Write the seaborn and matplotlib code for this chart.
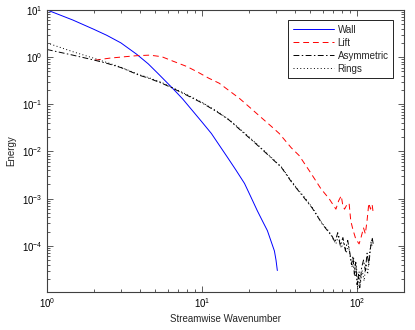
import numpy as np
import pandas as pd
import matplotlib
matplotlib.use('Agg')
import matplotlib.pyplot as plt
import seaborn as sns

# valori (numero d'onda, energia)
k_wall = [1, 1.47, 2, 2.43, 3, 3.79, 4.5, 5.2, 6.45, 7.5, 8.95, 10, 11.5, 13, 14.6, 16.5,
          18.8, 20.5, 22.7, 24.5, 26.4, 28, 29.3, 30, 30.6]
e_wall = [10, 6.1, 3.9, 2.9, 2.0, 1.15, 0.72, 0.45, 0.22, 0.13, 0.065, 0.042, 0.024, 0.0132,
          0.0075, 0.0041, 0.0021, 0.00115, 5.6e-4, 3.4e-4, 2.1e-4, 1.2e-4, 7.8e-5, 5e-5, 3e-5]

k_lift = [2.04, 2.54, 3.2, 3.79, 4.6, 5.5, 6.5, 8, 9.4, 11, 12.9, 15, 17.4, 20, 24, 28, 31.5,
          37.6, 42.3, 50, 58.6, 66, 73, 76, 79, 81, 83, 86, 88.8, 91, 94, 98, 103, 106, 110,
          113, 116, 119, 122, 125, 127]
e_lift = [0.86, 0.95, 1.02, 1.07, 1.1, 1.02, 0.82, 0.63, 0.48, 0.36, 0.28, 0.193, 0.134, 0.09,
          0.053, 0.034, 0.024, 0.012, 0.0082, 0.0036, 0.0016, 1e-3, 6e-4, 9e-4, 1.15e-3, 7e-4,
          6e-4, 7.5e-4, 8e-4, 3.4e-4, 2.2e-4, 1.4e-4, 1.1e-4, 1.5e-4, 2.4e-4, 1.8e-4, 3.5e-4,
          8e-4, 6e-4, 7.5e-4, 5e-4]

k_asym = [1, 1.47, 2, 2.43, 3, 3.96, 4.5, 5.5, 6.45, 8, 10.1, 12.6, 15, 18, 21.8, 26, 32.5,
          37.6, 40.4, 46, 51.4, 59.6, 66, 69, 72, 75, 78, 81, 84, 87, 90, 92, 94, 96, 98, 100,
          102, 104, 107, 110, 113, 116, 119, 122, 125, 127]
e_asym = [1.45, 1.1, 0.87, 0.74, 0.6, 0.41, 0.36, 0.28, 0.22, 0.155, 0.105, 0.068, 0.046,
          0.027, 0.0155, 0.0091, 0.0046, 0.0023, 0.0017, 1e-3, 6.3e-4, 2.9e-4, 1.9e-4, 1.6e-4,
          1.2e-4, 1.9e-4, 1e-4, 1.5e-4, 8e-5, 1.3e-4, 6.8e-5, 4e-5, 6e-5, 2.5e-5, 4.5e-5,
          1.5e-5, 2.5e-5, 1.3e-5, 3.5e-5, 5e-5, 3e-5, 7e-5, 4e-5, 9e-5, 1.5e-4, 1.1e-4]

k_rings = [1, 1.47, 2, 2.43, 3, 3.96, 4.5, 5.5, 6.45, 8, 10.1, 12.6, 15, 18, 21.8, 26, 32.5,
           37.6, 40.4, 46, 51.4, 59.6, 66, 70, 73, 76, 79, 82, 85, 88, 91, 93, 95, 97, 99,
           101, 103, 105, 108, 111, 114, 117, 120, 123, 126]
e_rings = [2.0, 1.3, 0.95, 0.77, 0.61, 0.42, 0.37, 0.29, 0.225, 0.16, 0.108, 0.07, 0.047,
           0.028, 0.016, 0.0094, 0.0047, 0.0024, 0.00175, 1.05e-3, 6.5e-4, 3e-4, 2e-4, 1.4e-4,
           1.1e-4, 1.7e-4, 9e-5, 1.2e-4, 7e-5, 1e-4, 5e-5, 3.5e-5, 5.5e-5, 2.2e-5, 3.8e-5,
           1.2e-5, 2.8e-5, 1.6e-5, 3e-5, 1.8e-5, 4.2e-5, 2.5e-5, 6.5e-5, 1.2e-4, 9e-5]

# tacche principali degli assi
x_ticks = [1, 10, 100]
y_ticks = [1e-4, 1e-3, 1e-2, 1e-1, 1, 10]

sns.set_style('ticks')
plt.rcParams['font.family'] = ['Liberation Sans', 'DejaVu Sans']
plt.rcParams['font.size'] = 7

fig = plt.figure(figsize=(4.15, 3.3), dpi=100)
ax = fig.add_axes([0.113, 0.115, 0.86, 0.855])

serie = [
    ('Wall', k_wall, e_wall, 'blue', '-'),
    ('Lift', k_lift, e_lift, 'red', (0, (6, 4))),
    ('Asymmetric', k_asym, e_asym, 'black', (0, (6, 2.5, 1.5, 2.5))),
    ('Rings', k_rings, e_rings, 'black', (0, (1, 2.5))),
]
for nome, k, e, col, ls in serie:
    sns.lineplot(x=k, y=e, ax=ax, color=col, linestyle=ls, linewidth=0.7,
                 label=nome, sort=False, estimator=None)

ax.set_xscale('log')
ax.set_yscale('log')
ax.set_xlim(1, 200)
ax.set_ylim(1.05e-5, 10)
ax.set_xticks(x_ticks)
ax.set_yticks(y_ticks)
ax.set_xlabel('Streamwise Wavenumber', labelpad=3)
ax.set_ylabel('Energy', labelpad=4)

ax.tick_params(which='both', direction='in', top=True, right=True, colors='#404040',
               labelcolor='black', width=0.6)
ax.tick_params(which='major', length=4, labelsize=7, pad=3)
ax.tick_params(which='minor', length=2)
for s in ax.spines.values():
    s.set_color('#404040')
    s.set_linewidth(0.8)

leg = ax.legend(loc='upper right', bbox_to_anchor=(0.983, 0.98), fancybox=False,
                edgecolor='black', framealpha=1, handlelength=4.2, labelspacing=0.3,
                borderpad=0.45, handletextpad=0.4, fontsize=7)
leg.get_frame().set_linewidth(0.6)

fig.savefig('out.png', dpi=100)
